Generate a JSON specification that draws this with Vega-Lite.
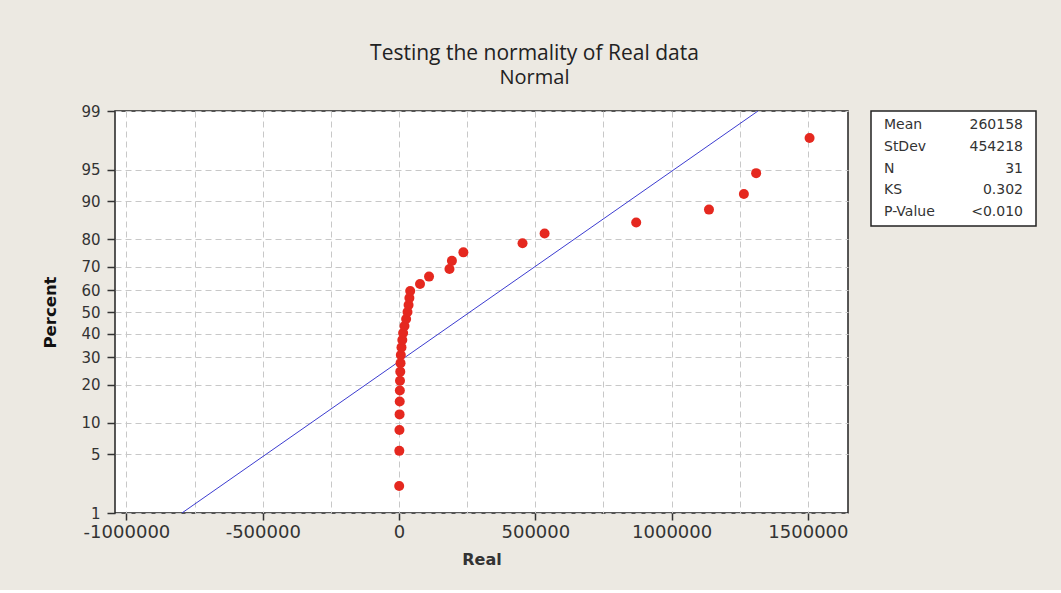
{
  "$schema": "https://vega.github.io/schema/vega-lite/v6.json",
  "background": "#ece9e2",
  "padding": {"left": 42, "top": 43, "right": 28, "bottom": 22},
  "title": {
    "text": "Testing the normality of Real data",
    "subtitle": "Normal",
    "font": "Open Sans",
    "fontSize": 21,
    "fontWeight": "normal",
    "color": "#222222",
    "subtitleFont": "Open Sans",
    "subtitleFontSize": 20,
    "subtitleColor": "#222222",
    "subtitlePadding": 4,
    "anchor": "middle",
    "dx": -5,
    "offset": 15
  },
  "datasets": {
    "points": [
      {"real": 500, "percent": 2.2},
      {"real": 1000, "percent": 5.4},
      {"real": 1500, "percent": 8.6},
      {"real": 2000, "percent": 11.8},
      {"real": 2500, "percent": 15.0},
      {"real": 3000, "percent": 18.2},
      {"real": 3500, "percent": 21.3},
      {"real": 4500, "percent": 24.5},
      {"real": 5500, "percent": 27.7},
      {"real": 6500, "percent": 30.9},
      {"real": 9000, "percent": 34.1},
      {"real": 12000, "percent": 37.3},
      {"real": 15000, "percent": 40.4},
      {"real": 20000, "percent": 43.6},
      {"real": 26000, "percent": 46.8},
      {"real": 31000, "percent": 50.0},
      {"real": 35000, "percent": 53.2},
      {"real": 38000, "percent": 56.4},
      {"real": 41000, "percent": 59.6},
      {"real": 77000, "percent": 62.7},
      {"real": 110000, "percent": 65.9},
      {"real": 185000, "percent": 69.1},
      {"real": 194000, "percent": 72.3},
      {"real": 236000, "percent": 75.5},
      {"real": 453000, "percent": 78.7},
      {"real": 534000, "percent": 81.8},
      {"real": 870000, "percent": 85.0},
      {"real": 1137000, "percent": 88.2},
      {"real": 1265000, "percent": 91.4},
      {"real": 1310000, "percent": 94.6},
      {"real": 1506000, "percent": 97.8}
    ],
    "fit": [
      {"real": -796507, "percent": 1},
      {"real": 1316823, "percent": 99}
    ],
    "stats": [
      {"stat": "Mean", "value": "260158"},
      {"stat": "StDev", "value": "454218"},
      {"stat": "N", "value": "31"},
      {"stat": "KS", "value": "0.302"},
      {"stat": "P-Value", "value": "<0.010"}
    ]
  },
  "spacing": 23,
  "bounds": "flush",
  "hconcat": [
    {
      "width": 733,
      "height": 402,
      "layer": [
        {
          "data": {"name": "fit"},
          "transform": [{"calculate": "quantileNormal(datum.percent / 100)", "as": "z"}],
          "mark": {"type": "line", "color": "#3c3cd0", "strokeWidth": 1, "clip": true},
          "encoding": {
            "x": {"field": "real", "type": "quantitative"},
            "y": {"field": "z", "type": "quantitative"}
          }
        },
        {
          "data": {"name": "points"},
          "transform": [{"calculate": "quantileNormal(datum.percent / 100)", "as": "z"}],
          "mark": {"type": "circle", "size": 100, "color": "#e5281f", "opacity": 1},
          "encoding": {
            "x": {
              "field": "real",
              "type": "quantitative",
              "scale": {"domain": [-1042000, 1647000], "nice": false, "zero": false},
              "axis": {
                "values": [-1000000, -750000, -500000, -250000, 0, 250000, 500000, 750000, 1000000, 1250000, 1500000],
                "tickCount": 30,
                "labelExpr": "datum.value % 500000 == 0 ? '' + datum.value : ''",
                "labelOverlap": false,
                "labelFlush": false,
                "labelFont": "DejaVu Sans",
                "labelFontSize": 18,
                "labelColor": "#333333",
                "labelPadding": 3,
                "grid": true,
                "gridDash": [6, 4],
                "gridColor": "#c8c8c8",
                "gridWidth": 1,
                "domain": false,
                "ticks": true,
                "tickSize": 7,
                "tickWidth": 1.5,
                "tickColor": "#333333",
                "tickOpacity": {"condition": {"test": "datum.value % 500000 != 0", "value": 0}, "value": 1},
                "title": "Real",
                "titleFont": "DejaVu Sans",
                "titleFontSize": 16,
                "titleFontWeight": "bold",
                "titleColor": "#333333",
                "titlePadding": 10
              }
            },
            "y": {
              "field": "z",
              "type": "quantitative",
              "scale": {"domain": [-2.3263, 2.3263], "nice": false, "zero": false},
              "axis": {
                "values": [-2.3263, -1.6449, -1.2816, -0.8416, -0.5244, -0.2533, 0, 0.2533, 0.5244, 0.8416, 1.2816, 1.6449, 2.3263],
                "tickCount": 30,
                "labelExpr": "'' + round(cumulativeNormal(datum.value) * 100)",
                "labelOverlap": false,
                "labelFlush": false,
                "labelFont": "DejaVu Sans",
                "labelFontSize": 15,
                "labelColor": "#333333",
                "labelPadding": 7,
                "grid": true,
                "gridDash": [6, 4],
                "gridColor": "#c8c8c8",
                "gridWidth": 1,
                "domain": false,
                "tickSize": 8,
                "tickWidth": 1.5,
                "tickColor": "#333333",
                "title": "Percent",
                "titleFont": "DejaVu Sans",
                "titleFontSize": 16.5,
                "titleFontWeight": "bold",
                "titleColor": "#111111",
                "titlePadding": 22
              }
            }
          }
        }
      ]
    },
    {
      "width": 165,
      "height": 115,
      "data": {"name": "stats"},
      "encoding": {
        "y": {"field": "stat", "type": "nominal", "sort": null, "scale": {"type": "point", "padding": 0.66}, "axis": null}
      },
      "layer": [
        {
          "mark": {"type": "text", "align": "left", "baseline": "middle", "font": "DejaVu Sans", "fontSize": 14, "color": "#333333"},
          "encoding": {
            "x": {"datum": "label", "type": "nominal", "scale": {"type": "point", "domain": ["label", "value"], "padding": 0.0935}, "axis": null},
            "text": {"field": "stat"}
          }
        },
        {
          "mark": {"type": "text", "align": "right", "baseline": "middle", "font": "DejaVu Sans", "fontSize": 14, "color": "#333333"},
          "encoding": {
            "x": {"datum": "value", "type": "nominal"},
            "text": {"field": "value"}
          }
        }
      ]
    }
  ],
  "config": {
    "view": {"stroke": "#222222", "strokeWidth": 1.5, "fill": "white"}
  }
}
